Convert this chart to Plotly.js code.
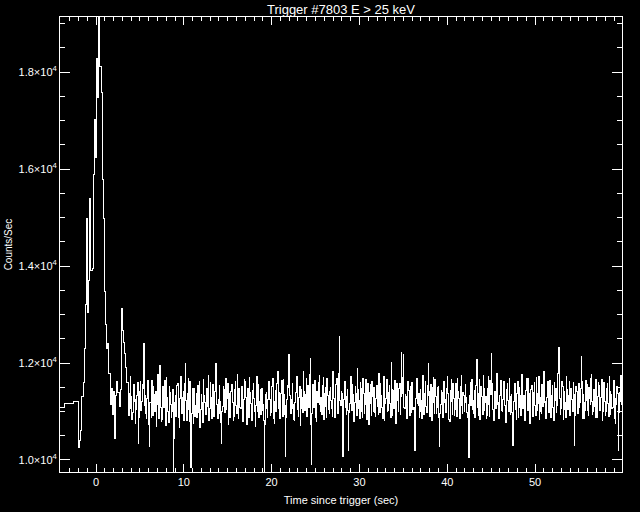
<!DOCTYPE html>
<html>
<head>
<meta charset="utf-8">
<script src="https://cdn.plot.ly/plotly-3.0.1.min.js"></script>
<style>
html,body{margin:0;padding:0;background:#000;}
#chart{width:640px;height:512px;}
#chart .scatterlayer path, #chart path.xtick, #chart path.ytick, #chart .xlines-above, #chart .ylines-above { shape-rendering: crispEdges; }
</style>
</head>
<body>
<div id="chart"></div>
<script>
// Pre-trigger coarse bins (1.024 s)
const coarseTimes = [-4.66, -3.64, -2.62];
const coarseCounts = [11090, 11156, 11197];

// Burst portion: start time, bin width (s), counts/sec
const burstStart = -1.984;
const burstBin = 0.128;
const burstCounts = [
  10250, 10400, 10600, 11310, 11590, 12300, 13200, 14990, 13050, 13700,
  15400, 13900, 13950, 15880, 17020, 16230, 18290, 17470, 19500, 18120,
  17570, 15780, 14990, 13470, 12790, 12300, 12410, 11790, 11140, 11480,
  10930, 11420, 10450, 11340, 11620, 11400, 11100, 11450, 13130, 12680,
  12420, 12200, 11900, 11600
];

// Post-burst background: bin width (s), counts/sec
const backgroundBin = 0.064;
const backgroundCounts = [
  11450,10920,11150,11380,11720,11060,11300,10840,10980,11490,11560,11210,11240,10760,11050,11330,11380,11590,10340,10870,10900,11410,11620,11030,11200,11560,11480,11850,12400,11120,11330,10950,10850,11270,11560,11640,11010,10730,10280,11180,
  11180,10870,11640,11290,10920,11510,11350,10990,11090,11420,10700,11140,11420,11760,11230,10860,11950,11470,11080,10790,10830,11360,11510,11080,11190,11630,10960,10710,11700,11240,11280,11010,10780,11520,11400,11170,11150,10880,10990,11450,
  9700,10620,10450,11190,11330,10890,11060,11540,11580,11120,10870,10680,11260,11390,11720,11010,10950,11280,11410,10820,11130,11570,11980,11230,10820,11060,11370,11690,11050,10790,11610,11340,9850,10960,11240,11480,10760,11130,11470,10900,
  11120,11380,10880,11250,11540,10970,11290,11610,10670,11040,11360,11190,11040,10780,11650,11320,11180,10990,10930,11470,11480,11100,11230,11740,10810,11060,11590,11280,11060,10850,11340,11560,10890,11150,11420,11710,12000,11300,11150,10940,
  10860,11240,11530,10950,11210,10780,10340,10990,11100,11510,11460,11170,10980,11350,11690,11040,11270,11580,10740,11090,11380,10870,11020,11420,11560,11230,11190,10810,10900,11330,11450,11620,11130,10960,11770,11290,10850,11470,11300,11080,
  11060,11350,11520,11110,10790,11020,11240,11660,11610,11280,10950,10730,11330,11480,11090,10880,11700,11390,11170,10940,10820,11260,11430,11570,11260,10990,10690,11130,11380,11720,11010,11240,11560,10870,11200,11450,10940,11180,11470,11030,
  11150,10810,9700,10730,11020,11360,11390,11070,10880,11240,11620,11480,11240,10920,10970,11310,11510,11690,11110,10850,10760,11200,11440,11010,11290,11570,11830,11260,11060,11390,10850,10990,11370,11640,11180,10900,11660,11350,10930,11120,
  10080,10870,11250,11530,11490,11710,12170,11380,11320,10960,10990,11240,11580,11070,11140,10840,10810,11190,11400,11620,11720,11330,11050,10900,11290,11510,10720,11070,11450,11280,11160,10980,11830,11420,11020,11160,11360,11680,10900,11220,
  11530,11090,11210,11760,12100,10740,9900,10950,11310,11560,11080,11240,11640,11010,10870,10790,11420,11330,11190,11600,11750,11140,10990,11280,11280,10930,11530,11710,10830,11060,11370,11490,11110,10880,11680,11320,11230,11040,10950,11410,
  11490,11220,11060,10890,11820,11470,11270,11050,10880,11340,11560,11690,11190,10960,11400,11780,12540,11230,11120,11410,11380,10830,10070,11150,11240,11520,11610,11090,10930,11300,11450,11020,10200,10980,11170,11390,11730,11260,11020,11550,
  11350,11040,10790,11180,11520,11370,11140,10920,11880,11460,11060,11230,10850,11590,11470,11010,11230,10870,11690,11380,10960,11140,11310,11650,11090,10830,11580,11250,10740,11020,11400,11560,11170,10910,11620,11300,11010,11490,11280,10970,
  10890,11260,11540,11100,11210,10940,11780,11420,10980,11570,11330,11080,11070,10850,11490,11720,10820,11160,11260,11390,11650,10990,11030,11310,11390,11540,11160,10880,12020,11450,10910,11200,11440,11060,11120,11630,10760,11020,11580,11340,
  11230,10990,11470,11580,10940,11310,12215,11540,11380,11700,12170,11090,11060,11350,11300,10880,10850,11140,11620,11430,11190,10920,11510,11280,10970,11600,11340,11050,11080,10780,10190,10910,11270,11470,11690,11160,11130,11380,10880,11010,
  11460,11130,11220,10860,11750,11390,10930,11250,11380,11610,11100,10970,11540,11330,11980,11420,11040,10900,11320,11560,10810,11170,11490,11710,11180,10950,11660,11300,10960,11080,11290,11500,11520,10880,10270,10960,11150,11440,11400,11090,
  10870,11310,11610,11190,11240,10980,11050,11470,11720,11380,11160,10840,10790,11120,11430,11650,11200,10930,11580,11260,10920,11040,11350,11570,11080,10890,11690,11420,11270,11010,10850,11230,11510,11740,11130,10950,11400,11320,10990,11180,
  11560,11290,11210,10970,10880,11140,10050,10830,11340,11590,11120,11360,11670,11050,10950,11220,11430,10880,11260,11540,12080,11410,11090,10920,11380,11650,10830,11060,11520,11300,11170,10940,11740,11480,11020,11190,11300,10860,10910,11270,
  11480,11720,11150,10890,11630,11360,12190,11580,11240,11050,10970,10810,11410,11290,11060,11500,11790,11140,11180,10960,10860,11330,11530,11640,11290,11020,11010,11240,11620,11400,11120,10870,10780,11090,11450,11570,11230,10990,11690,11310,
  10940,11160,11360,10980,10290,10870,11210,11440,11570,11270,11040,10830,11380,11610,10880,11090,11500,11340,11190,10920,11760,11480,11070,11230,11320,10990,10810,11120,11440,11680,11150,11020,11680,11370,10990,10760,11270,11450,11530,11140,
  10900,11250,11390,11600,11120,10910,11710,11370,11030,11160,11460,11730,10840,11010,11280,10950,11560,11320,11100,11480,11830,11190,11200,10860,10950,11290,11490,11620,11170,10980,11640,11400,10870,11070,11330,11540,11080,10820,11590,11260,
  11220,11470,10980,11130,11510,11780,12330,11360,11260,10940,11070,11290,11620,11510,10830,11040,11410,11190,11180,10870,11730,11450,11050,11320,11340,11620,10910,11080,11480,11240,11130,10990,11600,11350,10290,10920,11250,11510,11420,11060,
  10960,11320,11570,11090,11190,11470,12125,11610,11080,10850,11350,11180,10850,11030,11640,11390,11230,11560,11020,10910,11500,11270,11140,11680,11760,11200,10930,10990,11380,11450,11110,10870,11670,11330,10880,11140,11300,11590,11530,11020,
  11060,11280,11420,11650,10820,11010,11590,11330,11210,10920,11000,11240,11480,11570,11160,10890,11720,11410,10940,11130,11350,11060,11090,11480,11630,11290,10860,10750,11270,11150,11520,11380,10200,10980,11390,11210,11580,11740,11150,11320
];

// Axis tick values / labels
const xTickVals = [0, 10, 20, 30, 40, 50];
const yTickVals = [10000, 12000, 14000, 16000, 18000];
const yTickText = ['1.0×10<sup>4</sup>', '1.2×10<sup>4</sup>', '1.4×10<sup>4</sup>', '1.6×10<sup>4</sup>', '1.8×10<sup>4</sup>'];

// Assemble the time axis from the bin definitions
const times = coarseTimes.slice();
for (let i = 0; i < burstCounts.length; i++) times.push(burstStart + i * burstBin);
const backgroundStart = burstStart + burstCounts.length * burstBin;
for (let i = 0; i < backgroundCounts.length; i++) times.push(backgroundStart + i * backgroundBin);
const counts = coarseCounts.concat(burstCounts, backgroundCounts);

const FONT = 'Liberation Sans, Arial, sans-serif';

const trace = {
  type: 'scatter', mode: 'lines', x: times, y: counts,
  line: {color: '#ffffff', width: 1, shape: 'hv'},
  hoverinfo: 'skip'
};

const layout = {
  width: 640, height: 512,
  paper_bgcolor: '#000', plot_bgcolor: '#000',
  margin: {l: 60, r: 18, t: 17, b: 40},
  showlegend: false,
  font: {family: FONT, color: '#fff', size: 11},
  title: {text: 'Trigger #7803 E > 25 keV', x: 0.5, xref: 'paper', xanchor: 'center',
          y: 0.982, yref: 'container', yanchor: 'middle',
          font: {family: FONT, size: 13, color: '#fff'}},
  xaxis: {
    range: [-4.1, 59.9], showgrid: false, zeroline: false,
    showline: true, linecolor: '#fff', linewidth: 1, mirror: 'allticks',
    ticks: 'inside', ticklen: 8, tickwidth: 1, tickcolor: '#fff',
    tickvals: xTickVals, ticktext: xTickVals.map(String),
    tickfont: {family: FONT, size: 11, color: '#fff'},
    minor: {ticks: 'inside', dtick: 1, ticklen: 4, tickwidth: 1, tickcolor: '#fff', showgrid: false},
    title: {text: 'Time since trigger (sec)', font: {family: FONT, size: 11, color: '#fff'}, standoff: 9}
  },
  yaxis: {
    range: [9752, 19137], showgrid: false, zeroline: false,
    showline: true, linecolor: '#fff', linewidth: 1, mirror: 'allticks',
    ticks: 'inside', ticklen: 10, tickwidth: 1, tickcolor: '#fff',
    tickvals: yTickVals, ticktext: yTickText,
    tickfont: {family: FONT, size: 11, color: '#fff'},
    minor: {ticks: 'inside', dtick: 500, ticklen: 5, tickwidth: 1, tickcolor: '#fff', showgrid: false},
    title: {text: 'Counts/Sec', font: {family: FONT, size: 10, color: '#fff'}, standoff: 4}
  }
};

Plotly.newPlot('chart', [trace], layout, {displayModeBar: false, staticPlot: true});
</script>
</body>
</html>
